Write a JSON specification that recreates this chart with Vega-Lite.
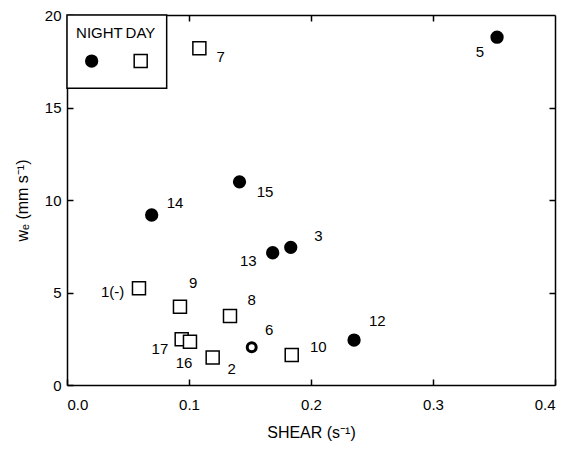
{
  "$schema": "https://vega.github.io/schema/vega-lite/v6.json",
  "autosize": {"type": "none"},
  "padding": {"left": 67, "top": 15, "right": 18, "bottom": 68},
  "width": 488,
  "height": 370,
  "background": "white",
  "config": {
    "view": {"stroke": null},
    "font": "Liberation Sans",
    "axis": {
      "domainColor": "black", "domainWidth": 1.5,
      "tickColor": "black", "tickWidth": 1.5, "tickSize": -6,
      "grid": false,
      "labelFont": "Liberation Sans", "labelFontSize": 15, "labelColor": "black",
      "titleFont": "Liberation Sans", "titleFontSize": 16, "titleFontWeight": "normal", "titleColor": "black"
    }
  },
  "data": {"values": [
    {"id": "5", "kind": "NIGHT", "shear": 0.3525, "we": 18.8, "lx": 0.3385, "ly": 18.0},
    {"id": "15", "kind": "NIGHT", "shear": 0.1414, "we": 10.98, "lx": 0.1623, "ly": 10.42},
    {"id": "14", "kind": "NIGHT", "shear": 0.0694, "we": 9.19, "lx": 0.0885, "ly": 9.82},
    {"id": "13", "kind": "NIGHT", "shear": 0.1686, "we": 7.15, "lx": 0.1486, "ly": 6.72},
    {"id": "3", "kind": "NIGHT", "shear": 0.1834, "we": 7.44, "lx": 0.206, "ly": 8.05},
    {"id": "12", "kind": "NIGHT", "shear": 0.2353, "we": 2.43, "lx": 0.2543, "ly": 3.48},
    {"id": "7", "kind": "DAY", "shear": 0.1085, "we": 18.2, "lx": 0.126, "ly": 17.75},
    {"id": "1(-)", "kind": "DAY", "shear": 0.059, "we": 5.23, "lx": 0.0374, "ly": 5.04},
    {"id": "9", "kind": "DAY", "shear": 0.0926, "we": 4.23, "lx": 0.1035, "ly": 5.5},
    {"id": "8", "kind": "DAY", "shear": 0.1336, "we": 3.73, "lx": 0.1514, "ly": 4.59},
    {"id": "10", "kind": "DAY", "shear": 0.1842, "we": 1.62, "lx": 0.206, "ly": 2.04},
    {"id": "17", "kind": "DAY", "shear": 0.094, "we": 2.47, "lx": 0.0762, "ly": 1.92},
    {"id": "16", "kind": "DAY", "shear": 0.1008, "we": 2.34, "lx": 0.0959, "ly": 1.2},
    {"id": "2", "kind": "DAY", "shear": 0.1194, "we": 1.49, "lx": 0.135, "ly": 0.85},
    {"id": "6", "kind": "OTHER", "shear": 0.1514, "we": 2.04, "lx": 0.1658, "ly": 2.97}
  ]},
  "layer": [
    {
      "transform": [{"filter": "datum.kind === 'NIGHT'"}],
      "mark": {"type": "point", "shape": "circle", "filled": true, "color": "black", "size": 177, "opacity": 1},
      "encoding": {
        "x": {"field": "shear", "type": "quantitative", "scale": {"domain": [0, 0.4], "nice": false},
              "axis": {"orient": "bottom", "values": [0, 0.1, 0.2, 0.3, 0.4], "format": ".1f", "labelPadding": 18, "title": "SHEAR (s⁻¹)", "titlePadding": 12}},
        "y": {"field": "we", "type": "quantitative", "scale": {"domain": [0, 20], "nice": false},
              "axis": {"orient": "left", "values": [0, 5, 10, 15, 20], "format": "d", "labelPadding": 12, "title": "wₑ (mm s⁻¹)", "titlePadding": 14}}
      }
    },
    {
      "transform": [{"filter": "datum.kind === 'DAY'"}],
      "mark": {"type": "point", "shape": "square", "filled": false, "stroke": "black", "fill": "white", "strokeWidth": 1.5, "size": 169, "opacity": 1},
      "encoding": {
        "x": {"field": "shear", "type": "quantitative",
              "axis": {"orient": "top", "values": [0.1, 0.2, 0.3], "labels": false, "title": null}},
        "y": {"field": "we", "type": "quantitative",
              "axis": {"orient": "right", "values": [5, 10, 15], "labels": false, "title": null}}
      }
    },
    {
      "transform": [{"filter": "datum.kind === 'OTHER'"}],
      "mark": {"type": "point", "shape": "circle", "filled": false, "stroke": "black", "fill": "white", "strokeWidth": 3, "size": 80, "opacity": 1},
      "encoding": {
        "x": {"field": "shear", "type": "quantitative", "axis": null},
        "y": {"field": "we", "type": "quantitative", "axis": null}
      }
    },
    {
      "mark": {"type": "text", "fontSize": 15, "font": "Liberation Sans", "align": "center", "baseline": "middle", "color": "black"},
      "encoding": {
        "x": {"field": "lx", "type": "quantitative", "axis": null},
        "y": {"field": "ly", "type": "quantitative", "axis": null},
        "text": {"field": "id"}
      }
    },
    {
      "data": {"values": [{"x0": 0, "x1": 0.0817, "y0": 16.04, "y1": 20}]},
      "mark": {"type": "rect", "fill": "white", "stroke": "black", "strokeWidth": 1.5},
      "encoding": {
        "x": {"field": "x0", "type": "quantitative", "axis": null},
        "x2": {"field": "x1"},
        "y": {"field": "y0", "type": "quantitative", "axis": null},
        "y2": {"field": "y1"}
      }
    },
    {
      "data": {"values": [{"t": "NIGHT", "x": 0.0266, "y": 19.04}, {"t": "DAY", "x": 0.0602, "y": 19.04}]},
      "mark": {"type": "text", "fontSize": 15, "font": "Liberation Sans", "align": "center", "baseline": "middle", "color": "black"},
      "encoding": {
        "x": {"field": "x", "type": "quantitative", "axis": null},
        "y": {"field": "y", "type": "quantitative", "axis": null},
        "text": {"field": "t"}
      }
    },
    {
      "data": {"values": [{"x": 0.0202, "y": 17.51}]},
      "mark": {"type": "point", "shape": "circle", "filled": true, "color": "black", "size": 177, "opacity": 1},
      "encoding": {
        "x": {"field": "x", "type": "quantitative", "axis": null},
        "y": {"field": "y", "type": "quantitative", "axis": null}
      }
    },
    {
      "data": {"values": [{"x": 0.0604, "y": 17.51}]},
      "mark": {"type": "point", "shape": "square", "filled": false, "stroke": "black", "fill": "white", "strokeWidth": 1.5, "size": 169, "opacity": 1},
      "encoding": {
        "x": {"field": "x", "type": "quantitative", "axis": null},
        "y": {"field": "y", "type": "quantitative", "axis": null}
      }
    }
  ]
}
